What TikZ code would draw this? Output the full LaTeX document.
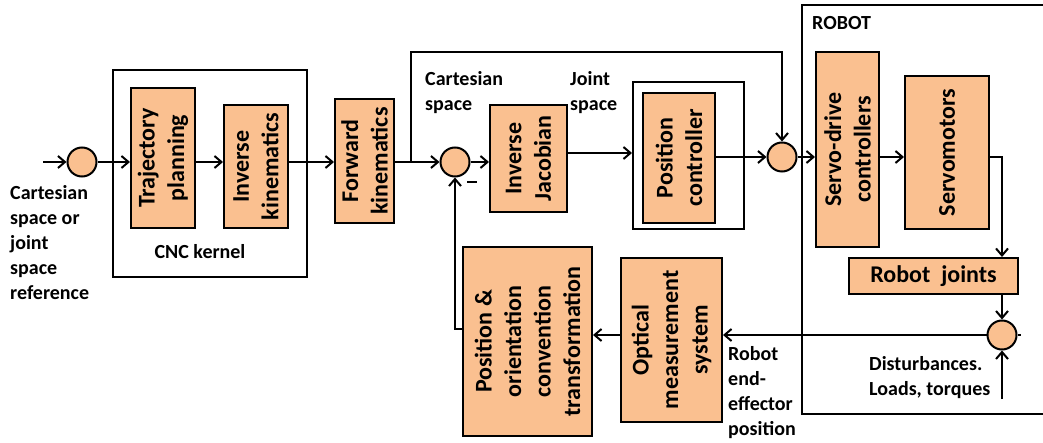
\documentclass[tikz,border=0pt]{standalone}
\usepackage{fontspec}
\setmainfont{Carlito}
\usetikzlibrary{arrows.meta}
\definecolor{blkfill}{RGB}{250,192,144}
\tikzset{
  blk/.style={draw, fill=blkfill, line width=2pt, inner sep=0pt},
  frame/.style={draw, line width=2pt, inner sep=0pt},
  sum/.style={circle, draw, fill=blkfill, line width=2pt, minimum size=29pt, inner sep=0pt},
  vtxt/.style={font=\fontsize{24}{29.5}\selectfont\bfseries, align=center, rotate=90, inner sep=0pt},
  htxt/.style={font=\fontsize{24}{29}\selectfont\bfseries, align=center, inner sep=0pt},
  lbl/.style={font=\fontsize{20}{25}\selectfont\bfseries, align=left, inner sep=0pt},
  ln/.style={line width=2pt},
  arr/.style={line width=2pt, -{Straight Barb[length=7pt,width=12pt]}}
}
\begin{document}
\begin{tikzpicture}[x=1pt,y=-1pt]
\useasboundingbox (0,0) rectangle (1043,443);
% frames
\node[frame, minimum width=194pt, minimum height=207pt] (cnc) at (210,173.5) {};
\node[frame, minimum width=111pt, minimum height=147pt] (posout) at (688.5,155.5) {};
\draw[ln] (1043,5) -- (802,5) -- (802,414) -- (1043,414);
% blocks
\node[sum] (in1) at (82,162) {};
\node[blk, minimum width=64pt, minimum height=140pt,
  label={[vtxt]center:{Trajectory\\planning}}] (traj) at (163,158) {};
\node[blk, minimum width=64pt, minimum height=123pt,
  label={[vtxt]center:{Inverse\\kinematics}}] (invkin) at (256,166.5) {};
\node[blk, minimum width=59pt, minimum height=124pt,
  label={[vtxt]center:{Forward\\kinematics}}] (fwd) at (364.5,161) {};
\node[sum] (sum1) at (455,162) {};
\node[blk, minimum width=77pt, minimum height=107pt,
  label={[vtxt]center:{Inverse\\Jacobian}}] (invjac) at (528.5,158.5) {};
\node[blk, minimum width=72pt, minimum height=130pt,
  label={[vtxt]center:{Position\\controller}}] (posctl) at (679,158) {};
\node[sum] (sum2) at (782,157) {};
\node[blk, minimum width=63pt, minimum height=195pt,
  label={[vtxt]center:{Servo-drive\\controllers}}] (servo) at (847.5,149.5) {};
\node[blk, minimum width=84pt, minimum height=153pt,
  label={[vtxt]center:{Servomotors}}] (motors) at (947,152.5) {};
\node[blk, minimum width=169pt, minimum height=36pt,
  label={[htxt]center:{Robot\ \ joints}}] (joints) at (933.5,276) {};
\node[sum] (sum3) at (1002,335) {};
\node[blk, minimum width=101pt, minimum height=164pt,
  label={[vtxt]center:{Optical\\measurement\\system}}] (optical) at (671.5,340) {};
\node[blk, minimum width=129pt, minimum height=189pt,
  label={[vtxt]center:{Position \&\\orientation\\convention\\transformation}}] (posori) at (527.5,341.5) {};
% labels
\node[lbl, anchor=west] (reflbl) at (10,243) {Cartesian\\space or\\joint\\space\\reference};
\node[lbl] (cnclbl) at (200,252) {CNC kernel};
\node[lbl, anchor=west] (cartlbl) at (425,92.5) {Cartesian\\space};
\node[lbl, anchor=west] (jointlbl) at (570,92.5) {Joint\\space};
\node[lbl, anchor=west] (robotlbl) at (812,23) {ROBOT};
\node[lbl, anchor=west] (eelbl) at (728,393) {Robot\\end-\\effector\\position};
\node[lbl, anchor=west] (distlbl) at (869,378) {Disturbances.\\Loads, torques};
\node[inner sep=0pt] (minus) at (472,182) {\rule{10pt}{2.5pt}};
\coordinate (refin) at (43,162);
\coordinate (distin) at (1002,399);
\coordinate (br) at (411,162);
% connectors
\draw[arr] (refin) -- (in1.west);
\draw[arr] (in1.east) -- (traj.west |- in1);
\draw[arr] (traj.east |- in1) -- (invkin.west |- in1);
\draw[arr] (invkin.east |- in1) -- (fwd.west |- in1);
\draw[arr] (fwd.east |- in1) -- (sum1.west);
\draw[arr] (br) -- (br |- 0,52) -| (sum2.north);
\draw[arr] (sum1.east) -- (invjac.west |- sum1);
\draw[arr] ([yshift=5.5pt]invjac.east) -- (posout.west |- 0,153);
\draw[arr] (posctl.east |- sum2) -- (sum2.west);
\draw[arr] (sum2.east) -- (servo.west |- sum2);
\draw[arr] (servo.east |- sum2) -- (motors.west |- sum2);
\draw[arr] (motors.east |- sum2) -| (sum3 |- joints.north);
\draw[arr] (sum3 |- joints.south) -- (sum3.north);
\draw[arr] (distin) -- (sum3.south);
\draw[ln] (sum3.east) -- ++(3,0);
\draw[arr] (sum3.west) -- (optical.east |- sum3);
\draw[arr] (optical.west |- sum3) -- (posori.east |- sum3);
\draw[arr] ([yshift=12.5pt]posori.west) -| (sum1.south);
\end{tikzpicture}
\end{document}
